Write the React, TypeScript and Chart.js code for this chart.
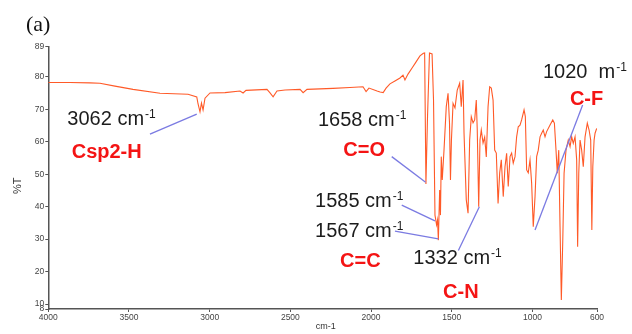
import React, { useEffect, useRef } from 'react';
import { Chart, registerables } from 'chart.js';

Chart.register(...registerables);

// ---- spectrum data (wavenumber cm-1, %T) ----
const wavenumbers = [
  4000, 3866, 3742, 3680, 3587, 3475, 3308, 3134, 3080, 3072, 3060, 3051, 3041, 3029, 2998,
  2905, 2812, 2793, 2775, 2645, 2626, 2607, 2583, 2533, 2440, 2421, 2397, 2236, 2131, 2050,
  2031, 2013, 1963, 1944, 1925, 1907, 1883, 1852, 1821, 1802, 1790, 1771, 1746, 1722, 1697,
  1676, 1668, 1660, 1650, 1638, 1622, 1613, 1604, 1594, 1588, 1583, 1575, 1570, 1565, 1559,
  1548, 1534, 1523, 1514, 1508, 1502, 1492, 1480, 1466, 1451, 1441, 1430, 1424, 1410, 1399,
  1389, 1379, 1368, 1358, 1348, 1342, 1333, 1325, 1317, 1306, 1296, 1286, 1275, 1265, 1255,
  1244, 1234, 1224, 1213, 1203, 1193, 1181, 1170, 1160, 1150, 1139, 1129, 1119, 1108, 1098,
  1088, 1077, 1067, 1052, 1044, 1036, 1026, 1015, 1005, 995, 984, 974, 964, 953, 943,
  933, 922, 912, 891, 874, 864, 854, 846, 837, 829, 821, 812, 804, 792, 778,
  767, 757, 747, 736, 726, 720, 713, 705, 695, 685, 674, 660, 649, 639, 632,
  626, 618, 612, 602,
];
const transmittance = [
  78.2, 78.2, 78.1, 78.0, 77.1, 76.1, 74.9, 74.6, 73.8, 71.6, 69.2, 71.9, 69.8, 73.4, 75.0,
  75.1, 75.6, 75.0, 75.8, 76.1, 75.0, 73.8, 75.6, 75.9, 76.1, 75.1, 76.1, 76.4, 76.7, 76.9,
  75.4, 76.5, 75.6, 75.3, 75.1, 76.5, 77.8, 78.7, 79.6, 80.5, 79.0, 80.8, 82.7, 84.5, 86.4,
  87.2, 87.3, 47.0, 68.0, 87.3, 87.0, 72.8, 37.4, 34.4, 35.9, 29.7, 45.1, 37.4, 55.4, 48.2,
  57.4, 70.8, 74.9, 65.8, 48.2, 60.5, 71.8, 70.4, 75.9, 78.0, 70.8, 79.0, 62.7, 42.1, 38.0,
  60.5, 67.7, 65.8, 66.7, 72.8, 63.6, 40.0, 60.5, 63.6, 59.6, 61.4, 55.3, 70.8, 76.9, 76.5,
  72.8, 57.4, 56.5, 41.0, 50.4, 54.4, 43.1, 52.3, 56.4, 46.2, 55.4, 56.5, 53.4, 55.4, 61.5,
  64.6, 65.1, 66.7, 69.8, 67.7, 51.3, 50.4, 54.4, 47.2, 33.8, 43.1, 55.4, 57.4, 61.5, 62.6,
  63.6, 61.5, 63.1, 65.1, 66.7, 65.7, 57.4, 50.3, 57.4, 33.8, 11.3, 29.8, 50.3, 57.4, 60.5,
  58.5, 61.5, 59.5, 61.5, 54.4, 27.7, 50.3, 60.5, 57.4, 52.3, 61.5, 65.7, 63.6, 60.5, 32.8,
  52.3, 60.5, 62.6, 64.1,
];

// ---- axes ----
const xTickValues = [4000, 3500, 3000, 2500, 2000, 1500, 1000, 600];
const yTickValues = [8.5, 10, 20, 30, 40, 50, 60, 70, 80, 89.3];
const yTickLabels = ['8', '10', '20', '30', '40', '50', '60', '70', '80', '89'];
const xAxisTitle = 'cm-1';
const yAxisTitle = '%T';
const panelLabel = '(a)';

// ---- annotations (anchored in data coordinates) ----
const labelMain = ['3062 cm', 'Csp2-H', '1658 cm', 'C=O', '1585 cm', '1567 cm', 'C=C', '1332 cm', 'C-N', '1020  m', 'C-F'];
const labelSup = ['-1', '', '-1', '', '-1', '-1', '', '-1', '', '-1', ''];
const labelWn = [3882, 3855, 2329, 2172, 2347, 2347, 2192, 1738, 1554, 935, 768];
const labelT = [65.1, 54.9, 64.9, 55.7, 39.8, 30.8, 21.5, 22.3, 11.9, 79.5, 71.3];
const labelIsGroup = [false, true, false, true, false, false, true, false, true, false, true];

const leaderFromWn = [3370, 1872, 1810, 1852, 1459, 689];
const leaderFromT = [62.3, 55.4, 40.5, 32.5, 26.5, 71.3];
const leaderToWn = [3080, 1662, 1604, 1583, 1329, 984];
const leaderToT = [68.5, 47.5, 35.6, 30.1, 40.0, 32.8];

const SANS = "'Liberation Sans', Arial, Helvetica, sans-serif";

const annotationPlugin = {
  id: 'irAnnotations',
  afterDraw(chart: any) {
    const { ctx, scales, chartArea } = chart;
    const xs = scales.x;
    const ys = scales.y;
    ctx.save();
    // leader lines
    ctx.strokeStyle = '#7b7be2';
    ctx.lineWidth = 1.3;
    for (let i = 0; i < leaderFromWn.length; i++) {
      ctx.beginPath();
      ctx.moveTo(xs.getPixelForValue(leaderFromWn[i]), ys.getPixelForValue(leaderFromT[i]));
      ctx.lineTo(xs.getPixelForValue(leaderToWn[i]), ys.getPixelForValue(leaderToT[i]));
      ctx.stroke();
    }
    // labels
    ctx.textAlign = 'left';
    ctx.textBaseline = 'alphabetic';
    for (let i = 0; i < labelMain.length; i++) {
      const px = xs.getPixelForValue(labelWn[i]);
      const py = ys.getPixelForValue(labelT[i]);
      if (labelIsGroup[i]) {
        ctx.font = `bold 20px ${SANS}`;
        ctx.fillStyle = '#f41414';
      } else {
        ctx.font = `20px ${SANS}`;
        ctx.fillStyle = '#1c1c1c';
      }
      ctx.fillText(labelMain[i], px, py);
      if (labelSup[i]) {
        const w = ctx.measureText(labelMain[i]).width;
        ctx.font = `12px ${SANS}`;
        ctx.fillText(labelSup[i], px + w + 1, py - 7);
      }
    }
    // axis titles
    ctx.fillStyle = '#333';
    ctx.font = `9px ${SANS}`;
    ctx.textAlign = 'center';
    ctx.textBaseline = 'middle';
    ctx.fillText(xAxisTitle, (chartArea.left + chartArea.right) / 2 + 3, 327);
    ctx.save();
    ctx.translate(18, (chartArea.top + chartArea.bottom) / 2 + 8);
    ctx.rotate(-Math.PI / 2);
    ctx.font = `11px ${SANS}`;
    ctx.fillText(yAxisTitle, 0, 0);
    ctx.restore();
    // panel label
    ctx.font = "22px 'Liberation Serif', 'Times New Roman', serif";
    ctx.fillStyle = '#111';
    ctx.textAlign = 'left';
    ctx.textBaseline = 'alphabetic';
    ctx.fillText(panelLabel, 26, 31);
    ctx.restore();
  },
};

export default function App() {
  const canvasRef = useRef<HTMLCanvasElement | null>(null);

  useEffect(() => {
    document.body.style.margin = '0';
    const canvas = canvasRef.current;
    if (!canvas) return;
    const points = wavenumbers.map((w, i) => ({ x: w, y: transmittance[i] }));
    const chart = new Chart(canvas, {
      type: 'line',
      data: {
        datasets: [
          {
            data: points,
            borderColor: '#ff5a28',
            borderWidth: 1.1,
            pointRadius: 0,
            tension: 0,
            fill: false,
          },
        ],
      },
      options: {
        animation: false,
        responsive: false,
        devicePixelRatio: 1,
        parsing: false as any,
        layout: { padding: { top: 46.5, right: 35, bottom: 0, left: 0 } },
        plugins: { legend: { display: false }, tooltip: { enabled: false }, title: { display: false } },
        scales: {
          x: {
            type: 'linear',
            reverse: true,
            min: 600,
            max: 4000,
            afterBuildTicks: (scale: any) => {
              scale.ticks = xTickValues.map((v) => ({ value: v }));
            },
            afterFit: (scale: any) => {
              scale.height = 25;
            },
            grid: { display: true, drawOnChartArea: false, drawTicks: true, tickLength: 3, color: '#555', lineWidth: 1 },
            border: { display: true, color: '#555', width: 1.5 },
            ticks: {
              autoSkip: false,
              maxRotation: 0,
              padding: 1,
              color: '#444',
              font: { size: 8.5, family: SANS },
              callback: (v: any) => String(v),
            },
          },
          y: {
            type: 'linear',
            min: 8.5,
            max: 89.3,
            afterBuildTicks: (scale: any) => {
              scale.ticks = yTickValues.map((v) => ({ value: v }));
            },
            afterFit: (scale: any) => {
              scale.width = 48.3;
            },
            grid: { display: true, drawOnChartArea: false, drawTicks: true, tickLength: 3, color: '#555', lineWidth: 1 },
            border: { display: true, color: '#555', width: 1.5 },
            ticks: {
              autoSkip: false,
              padding: 1,
              color: '#444',
              font: { size: 8.5, family: SANS },
              callback: (v: any) => {
                const idx = yTickValues.indexOf(Number(v));
                return idx >= 0 ? yTickLabels[idx] : '';
              },
            },
          },
        },
      },
      plugins: [annotationPlugin],
    });
    return () => chart.destroy();
  }, []);

  return (
    <div style={{ width: 632, height: 334, background: '#fff' }}>
      <canvas ref={canvasRef} width={632} height={334} style={{ display: 'block' }} />
    </div>
  );
}
